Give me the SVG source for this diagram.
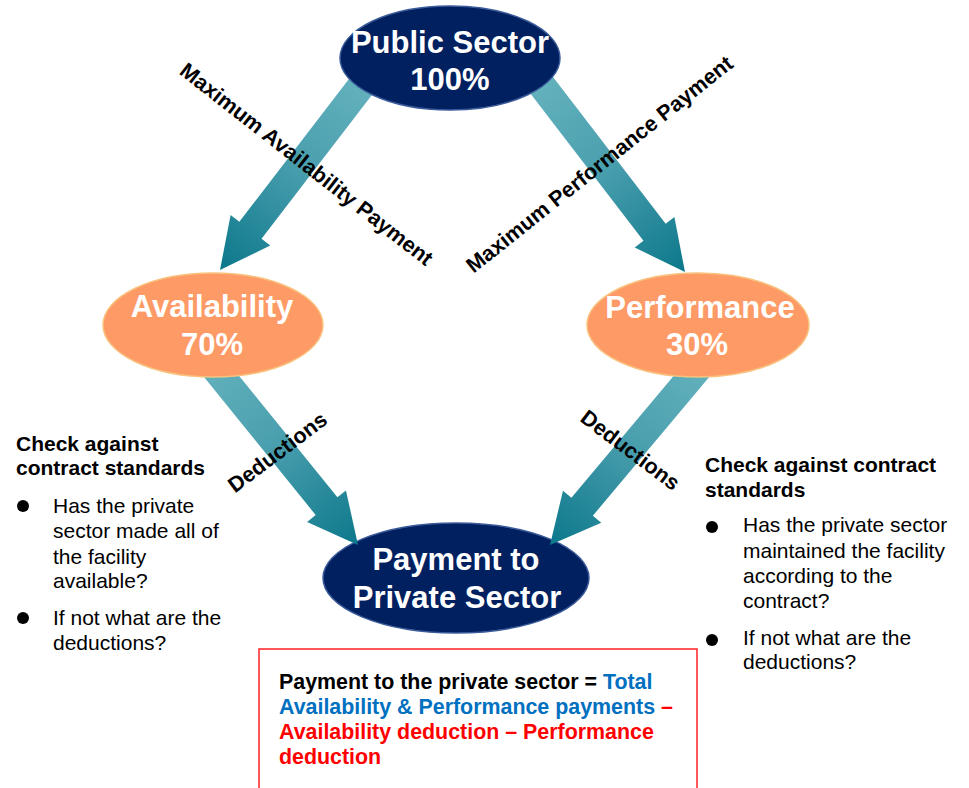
<svg xmlns="http://www.w3.org/2000/svg" width="969" height="788" viewBox="0 0 969 788">
  <defs>
    <linearGradient id="teal" x1="0" y1="0" x2="1" y2="0">
      <stop offset="0" stop-color="#6ab6c1"/>
      <stop offset="0.5" stop-color="#4a9fae"/>
      <stop offset="1" stop-color="#0c788b"/>
    </linearGradient>
    <!-- block arrow pointing along +x, tip at the origin -->
    <polygon id="arrow" points="-265,-14 -50,-14 -50,-25 0,0 -50,25 -50,14 -265,14" fill="url(#teal)"/>
    <style>
      .navy { fill: #002060; stroke: #3a5a9a; stroke-width: 1.5; }
      .orange { fill: #fe9a65; stroke: #f8c27e; stroke-width: 1.5; }
      .title { font-family: "Liberation Sans", Arial, sans-serif; font-weight: bold; font-size: 31px; fill: #ffffff; text-anchor: middle; }
      .lbl { font-family: "Liberation Sans", Arial, sans-serif; font-weight: bold; font-size: 21.6px; fill: #000000; text-anchor: middle; }
      .head { font-family: "Liberation Sans", Arial, sans-serif; font-weight: bold; font-size: 21px; fill: #000000; }
      .body { font-family: "Liberation Sans", Arial, sans-serif; font-size: 21px; fill: #000000; }
      .box { font-family: "Liberation Sans", Arial, sans-serif; font-weight: bold; font-size: 21.4px; }
    </style>
  </defs>

  <rect width="969" height="788" fill="#ffffff"/>

  <!-- bottom node sits beneath the incoming arrow tips -->
  <g id="payment">
    <ellipse class="navy" cx="456" cy="578" rx="133" ry="55"/>
    <text class="title" x="456" y="570">Payment to</text>
    <text class="title" x="457" y="608">Private Sector</text>
  </g>

  <g id="connectors">
    <use href="#arrow" transform="translate(220,270) rotate(127.5)"/>
    <use href="#arrow" transform="translate(685,272) rotate(52.5)"/>
    <use href="#arrow" transform="translate(358,545) rotate(51)"/>
    <use href="#arrow" transform="translate(550,545) rotate(130)"/>
    <text class="lbl" transform="translate(302,170) rotate(38)">Maximum Availability Payment</text>
    <text class="lbl" transform="translate(604,170) rotate(-38.5)">Maximum Performance Payment</text>
    <text class="lbl" transform="translate(282,458) rotate(-37)">Deductions</text>
    <text class="lbl" transform="translate(626,456) rotate(37)">Deductions</text>
  </g>

  <g id="public-sector">
    <ellipse class="navy" cx="450" cy="58" rx="110" ry="52"/>
    <text class="title" x="450" y="53">Public Sector</text>
    <text class="title" x="450" y="90">100%</text>
  </g>

  <g id="availability">
    <ellipse class="orange" cx="213" cy="325" rx="110" ry="52"/>
    <text class="title" x="212" y="317">Availability</text>
    <text class="title" x="212" y="355">70%</text>
  </g>

  <g id="performance">
    <ellipse class="orange" cx="698" cy="325" rx="111" ry="52"/>
    <text class="title" x="700" y="318">Performance</text>
    <text class="title" x="697" y="355">30%</text>
  </g>

  <g id="availability-checks">
    <text class="head" x="16" y="451">Check against</text>
    <text class="head" x="16" y="475">contract standards</text>
    <circle cx="23" cy="506" r="6"/>
    <text class="body" x="53" y="513">Has the private</text>
    <text class="body" x="53" y="538">sector made all of</text>
    <text class="body" x="53" y="564">the facility</text>
    <text class="body" x="53" y="588">available?</text>
    <circle cx="23" cy="618" r="6"/>
    <text class="body" x="53" y="625">If not what are the</text>
    <text class="body" x="53" y="650">deductions?</text>
  </g>

  <g id="performance-checks">
    <text class="head" x="705" y="472">Check against contract</text>
    <text class="head" x="705" y="497">standards</text>
    <circle cx="712" cy="527" r="6"/>
    <text class="body" x="743" y="532">Has the private sector</text>
    <text class="body" x="743" y="558">maintained the facility</text>
    <text class="body" x="743" y="583">according to the</text>
    <text class="body" x="743" y="608">contract?</text>
    <circle cx="712" cy="640" r="6"/>
    <text class="body" x="743" y="645">If not what are the</text>
    <text class="body" x="743" y="669">deductions?</text>
  </g>

  <g id="formula">
    <rect x="259" y="649" width="438" height="150" fill="#ffffff" stroke="#ff2020" stroke-width="1.5"/>
    <text class="box" x="279" y="689"><tspan fill="#000000">Payment to the private sector = </tspan><tspan fill="#0070c0">Total</tspan></text>
    <text class="box" x="279" y="714"><tspan fill="#0070c0">Availability &amp; Performance payments </tspan><tspan fill="#ff0000">–</tspan></text>
    <text class="box" x="279" y="739" fill="#ff0000">Availability deduction – Performance</text>
    <text class="box" x="279" y="764" fill="#ff0000">deduction</text>
  </g>
</svg>
